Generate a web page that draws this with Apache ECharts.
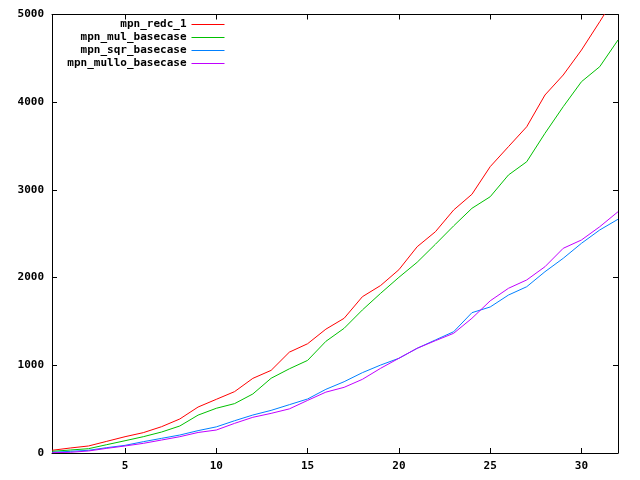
<!DOCTYPE html>
<html>
<head>
<meta charset="utf-8">
<script src="https://cdn.jsdelivr.net/npm/echarts@6/dist/echarts.min.js"></script>
<style>html,body{margin:0;padding:0;background:#fff}#c{width:640px;height:480px}</style>
</head>
<body>
<div id="c"></div>
<script>
var sizes = [1,2,3,4,5,6,7,8,9,10,11,12,13,14,15,16,17,18,19,20,21,22,23,24,25,26,27,28,29,30,31,32];
var redc1 = [31,57,80,133,186,232,300,388,524,612,700,851,942,1150,1246,1412,1536,1782,1910,2090,2352,2523,2771,2950,3265,3493,3720,4082,4310,4595,4918,5250];
var mulBasecase = [19,34,49,95,140,186,239,308,432,510,563,673,852,960,1056,1273,1422,1631,1821,2003,2175,2380,2590,2790,2922,3170,3321,3645,3949,4234,4405,4709];
var sqrBasecase = [8,19,31,61,87,129,167,205,255,298,368,433,486,551,616,726,813,916,1003,1080,1194,1289,1383,1600,1665,1801,1896,2067,2220,2391,2543,2665];
var mulloBasecase = [3,8,23,53,80,110,148,186,234,262,338,407,452,503,600,694,749,840,966,1080,1194,1281,1365,1536,1735,1878,1973,2124,2334,2429,2580,2751];
var seriesNames = ['mpn_redc_1','mpn_mul_basecase','mpn_sqr_basecase','mpn_mullo_basecase'];
var xTicks = [5,10,15,20,25,30];

function pairs(v){ return sizes.map(function(s,i){ return [s, v[i]]; }); }
var colors = ['#ff0000','#00c000','#0080ff','#c000ff'];
var allData = [redc1, mulBasecase, sqrBasecase, mulloBasecase];
var FF = 'DejaVu Sans Mono';

var chart = echarts.init(document.getElementById('c'), null, {renderer:'canvas'});
chart.setOption({
  animation:false,
  color: colors,
  grid:{left:52, right:22, top:14.5, bottom:27, containLabel:false},
  legend:{
    orient:'vertical', align:'right', right:410, top:13,
    itemWidth:33, itemHeight:13, itemGap:0,
    itemStyle:{opacity:0},
    lineStyle:{width:1},
    textStyle:{fontFamily:FF, fontWeight:'bold', fontSize:11, color:'#000', lineHeight:13},
    data: seriesNames
  },
  xAxis:[{
    type:'value', min:1, max:32, position:'bottom',
    axisLine:{show:true, onZero:false, lineStyle:{color:'#000', width:1}},
    axisTick:{show:true, inside:true, length:5, customValues:xTicks, lineStyle:{color:'#000'}},
    axisLabel:{customValues:xTicks, margin:8, fontFamily:FF, fontWeight:'bold', fontSize:11, color:'#000'},
    splitLine:{show:false}
  },{
    type:'value', min:1, max:32, position:'top',
    axisLine:{show:true, onZero:false, lineStyle:{color:'#000', width:1}},
    axisTick:{show:true, inside:true, length:5, customValues:xTicks, lineStyle:{color:'#000'}},
    axisLabel:{show:false},
    splitLine:{show:false}
  }],
  yAxis:[{
    type:'value', min:0, max:5000, interval:1000, position:'left',
    axisLine:{show:true, onZero:false, lineStyle:{color:'#000', width:1}},
    axisTick:{show:true, inside:true, length:5, lineStyle:{color:'#000'}},
    axisLabel:{margin:8, fontFamily:FF, fontWeight:'bold', fontSize:11, color:'#000',
      formatter:function(v){ return String(v); }},
    splitLine:{show:false}
  },{
    type:'value', min:0, max:5000, interval:1000, position:'right',
    axisLine:{show:true, onZero:false, lineStyle:{color:'#000', width:1}},
    axisTick:{show:true, inside:true, length:5, lineStyle:{color:'#000'}},
    axisLabel:{show:false},
    splitLine:{show:false}
  }],
  series: seriesNames.map(function(n,i){
    return {name:n, type:'line', xAxisIndex:0, yAxisIndex:0, symbol:'none', clip:true,
      lineStyle:{width:1, color:colors[i]}, itemStyle:{color:colors[i]},
      data: pairs(allData[i])};
  })
});
</script>
</body>
</html>
